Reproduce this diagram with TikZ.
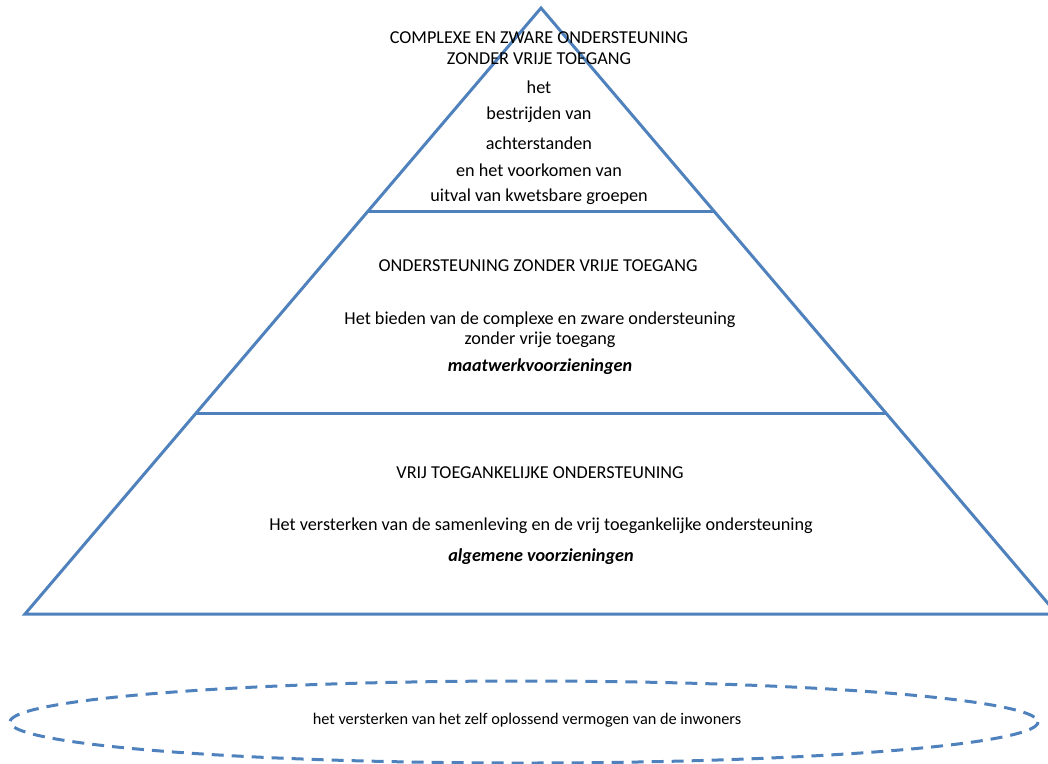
\documentclass[tikz,border=0pt]{standalone}
\usepackage{fontspec}
\setmainfont{Carlito}
\begin{document}
\begin{tikzpicture}[x=1pt,y=-1pt,
  edge/.style={draw=pyrblue,line width=3pt,line join=miter},
  txt/.style={inner sep=0pt,anchor=center,font=\fontsize{18.2}{21}\selectfont,text=black},
  emph/.style={txt,font=\fontsize{18.2}{21}\selectfont\bfseries\itshape}]
\definecolor{pyrblue}{HTML}{4F81BD}
\useasboundingbox (0,0) rectangle (1048,763);
\clip (0,0) rectangle (1048,763);
% pyramid
\coordinate (apex) at (541,8);
\coordinate (bl) at (25,614);
\coordinate (br) at (1057,614);
\coordinate (l1) at (368,211);
\coordinate (r1) at (714,211);
\coordinate (l2) at (196,413);
\coordinate (r2) at (886,413);
\draw[edge] (apex) -- (bl) -- (br) -- cycle;
\draw[edge] (l1) -- (r1);
\draw[edge] (l2) -- (r2);
% top layer
\node[txt] (t1) at (539,38) {COMPLEXE EN ZWARE ONDERSTEUNING};
\node[txt] (t2) at (539,59) {ZONDER VRIJE TOEGANG};
\node[txt] (t3) at (539,87) {het};
\node[txt] (t4) at (539,115) {bestrijden van};
\node[txt] (t5) at (539,143) {achterstanden};
\node[txt] (t6) at (539,170) {en het voorkomen van};
\node[txt] (t7) at (539,197) {uitval van kwetsbare groepen};
% middle layer
\node[txt] (m1) at (538,266) {ONDERSTEUNING ZONDER VRIJE TOEGANG};
\node[txt] (m2) at (540,320) {Het bieden van de complexe en zware ondersteuning};
\node[txt] (m3) at (540,340) {zonder vrije toegang};
\node[emph] (m4) at (540,367) {maatwerkvoorzieningen};
% bottom layer
\node[txt] (b1) at (540,473) {VRIJ TOEGANKELIJKE ONDERSTEUNING};
\node[txt] (b2) at (541,526) {Het versterken van de samenleving en de vrij toegankelijke ondersteuning};
\node[emph] (b3) at (541,557) {algemene voorzieningen};
% ellipse
\draw[draw=pyrblue,line width=3pt,dash pattern=on 12pt off 8pt] (524,722) ellipse [x radius=514,y radius=41];
\node[txt,font=\fontsize{16.3}{19}\selectfont] (e1) at (527,720) {het versterken van het zelf oplossend vermogen van de inwoners};
\end{tikzpicture}
\end{document}
